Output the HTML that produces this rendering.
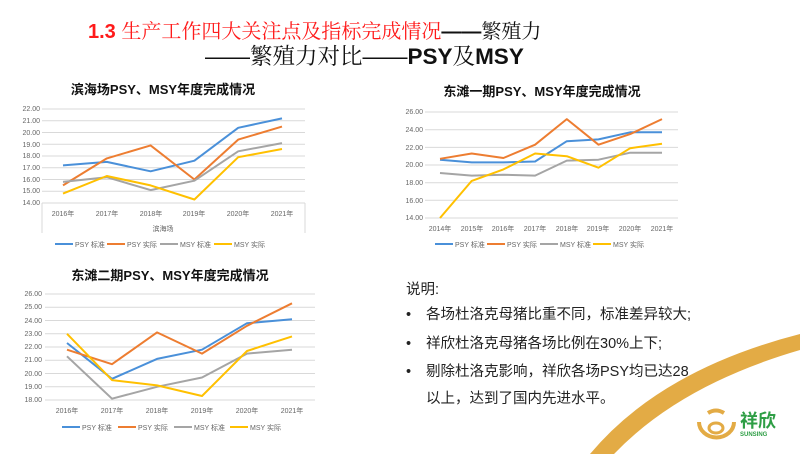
<!DOCTYPE html>
<html><head><meta charset="utf-8"><style>
body{margin:0;width:800px;height:454px;overflow:hidden;background:#fff}
svg{display:block}
.t{font-family:"Liberation Sans","Noto Sans CJK SC",sans-serif}
.ax{font-size:7px;fill:#666}
.g{stroke:#d9d9d9;stroke-width:1}
.ct{font-size:13px;font-weight:bold;fill:#111}
polyline{fill:none;stroke-width:2;stroke-linejoin:round}
.b{stroke:#4a90d9}.o{stroke:#ed7d31}.y{stroke:#a5a5a5}.w{stroke:#ffc000}
.tx{font-size:14.5px;fill:#222}
</style></head><body>
<svg width="800" height="454" class="t">
<path d="M590,454 Q660,370 800,334 L800,350 Q680,385 614,454 Z" fill="#e3ab45"/>
<text x="88" y="38" font-size="20" font-weight="bold" fill="#ff1a1a">1.3 <tspan font-family="Noto Serif CJK SC,serif" font-weight="normal">生产工作四大关注点及指标完成情况</tspan><tspan fill="#111">——</tspan><tspan fill="#111" font-family="Noto Serif CJK SC,serif" font-weight="normal">繁殖力</tspan></text>
<text x="205" y="64" font-size="22.5" fill="#111"><tspan>——</tspan><tspan font-family="Noto Serif CJK SC,serif">繁殖力对比</tspan><tspan>——</tspan><tspan font-weight="bold">PSY</tspan><tspan font-family="Noto Serif CJK SC,serif">及</tspan><tspan font-weight="bold">MSY</tspan></text>

<!-- chart1 -->
<text x="163" y="94" text-anchor="middle" class="ct">滨海场PSY、MSY年度完成情况</text>
<g class="g"><line x1="42" x2="305" y1="109" y2="109"/><line x1="42" x2="305" y1="120.75" y2="120.75"/><line x1="42" x2="305" y1="132.5" y2="132.5"/><line x1="42" x2="305" y1="144.25" y2="144.25"/><line x1="42" x2="305" y1="156" y2="156"/><line x1="42" x2="305" y1="167.75" y2="167.75"/><line x1="42" x2="305" y1="179.5" y2="179.5"/><line x1="42" x2="305" y1="191.25" y2="191.25"/><line x1="42" x2="305" y1="203" y2="203"/><line x1="42" x2="42" y1="203" y2="233"/><line x1="305" x2="305" y1="203" y2="233"/></g>
<g class="ax" text-anchor="end"><text x="40" y="111">22.00</text><text x="40" y="123">21.00</text><text x="40" y="135">20.00</text><text x="40" y="147">19.00</text><text x="40" y="158">18.00</text><text x="40" y="170">17.00</text><text x="40" y="182">16.00</text><text x="40" y="193">15.00</text><text x="40" y="205">14.00</text></g>
<g class="ax" text-anchor="middle"><text x="63" y="216">2016年</text><text x="107" y="216">2017年</text><text x="151" y="216">2018年</text><text x="194" y="216">2019年</text><text x="238" y="216">2020年</text><text x="282" y="216">2021年</text><text x="163" y="231">滨海场</text></g>
<polyline class="b" points="63,165.4 106.8,161.9 150.6,171.3 194.4,160.7 238.2,127.8 282,118.4"/>
<polyline class="o" points="63,185.4 106.8,158.4 150.6,145.4 194.4,179.5 238.2,139.6 282,126.6"/>
<polyline class="y" points="63,181.9 106.8,177.2 150.6,190.1 194.4,180.7 238.2,151.3 282,143.1"/>
<polyline class="w" points="63,193.6 106.8,176 150.6,185.4 194.4,199.5 238.2,157.2 282,149"/>
<g class="ax"><line x1="55" x2="73" y1="244" y2="244" stroke="#4a90d9" stroke-width="2"/><text x="75" y="247">PSY 标准</text><line x1="107" x2="125" y1="244" y2="244" stroke="#ed7d31" stroke-width="2"/><text x="127" y="247">PSY 实际</text><line x1="160" x2="178" y1="244" y2="244" stroke="#a5a5a5" stroke-width="2"/><text x="180" y="247">MSY 标准</text><line x1="214" x2="232" y1="244" y2="244" stroke="#ffc000" stroke-width="2"/><text x="234" y="247">MSY 实际</text></g>

<!-- chart2 -->
<text x="542" y="96" text-anchor="middle" class="ct">东滩一期PSY、MSY年度完成情况</text>
<g class="g"><line x1="425" x2="678" y1="112" y2="112"/><line x1="425" x2="678" y1="129.7" y2="129.7"/><line x1="425" x2="678" y1="147.4" y2="147.4"/><line x1="425" x2="678" y1="165" y2="165"/><line x1="425" x2="678" y1="182.7" y2="182.7"/><line x1="425" x2="678" y1="200.3" y2="200.3"/><line x1="425" x2="678" y1="218" y2="218"/></g>
<g class="ax" text-anchor="end"><text x="423" y="114">26.00</text><text x="423" y="132">24.00</text><text x="423" y="150">22.00</text><text x="423" y="167">20.00</text><text x="423" y="185">18.00</text><text x="423" y="203">16.00</text><text x="423" y="220">14.00</text></g>
<g class="ax" text-anchor="middle"><text x="440" y="231">2014年</text><text x="472" y="231">2015年</text><text x="503" y="231">2016年</text><text x="535" y="231">2017年</text><text x="567" y="231">2018年</text><text x="598" y="231">2019年</text><text x="630" y="231">2020年</text><text x="662" y="231">2021年</text></g>
<polyline class="b" points="440,159.7 471.7,162.4 503.4,162.4 535.1,161.5 566.8,141.2 598.5,139.4 630.2,132.3 662,132.3"/>
<polyline class="o" points="440,158.8 471.7,153.5 503.4,158 535.1,144.7 566.8,119.1 598.5,144.7 630.2,134.1 662,119.1"/>
<polyline class="y" points="440,173 471.7,175.6 503.4,174.7 535.1,175.6 566.8,160.6 598.5,159.7 630.2,152.7 662,152.7"/>
<polyline class="w" points="440,218 471.7,180.9 503.4,169.4 535.1,153.5 566.8,156.2 598.5,167.7 630.2,148.2 662,143.8"/>
<g class="ax"><line x1="435" x2="453" y1="244" y2="244" stroke="#4a90d9" stroke-width="2"/><text x="455" y="247">PSY 标准</text><line x1="487" x2="505" y1="244" y2="244" stroke="#ed7d31" stroke-width="2"/><text x="507" y="247">PSY 实际</text><line x1="540" x2="558" y1="244" y2="244" stroke="#a5a5a5" stroke-width="2"/><text x="560" y="247">MSY 标准</text><line x1="593" x2="611" y1="244" y2="244" stroke="#ffc000" stroke-width="2"/><text x="613" y="247">MSY 实际</text></g>

<!-- chart3 -->
<text x="170" y="280" text-anchor="middle" class="ct">东滩二期PSY、MSY年度完成情况</text>
<g class="g"><line x1="45" x2="315" y1="294" y2="294"/><line x1="45" x2="315" y1="307.25" y2="307.25"/><line x1="45" x2="315" y1="320.5" y2="320.5"/><line x1="45" x2="315" y1="333.75" y2="333.75"/><line x1="45" x2="315" y1="347" y2="347"/><line x1="45" x2="315" y1="360.25" y2="360.25"/><line x1="45" x2="315" y1="373.5" y2="373.5"/><line x1="45" x2="315" y1="386.75" y2="386.75"/><line x1="45" x2="315" y1="400" y2="400"/></g>
<g class="ax" text-anchor="end"><text x="42" y="296">26.00</text><text x="42" y="309">25.00</text><text x="42" y="323">24.00</text><text x="42" y="336">23.00</text><text x="42" y="349">22.00</text><text x="42" y="362">21.00</text><text x="42" y="376">20.00</text><text x="42" y="389">19.00</text><text x="42" y="402">18.00</text></g>
<g class="ax" text-anchor="middle"><text x="67" y="413">2016年</text><text x="112" y="413">2017年</text><text x="157" y="413">2018年</text><text x="202" y="413">2019年</text><text x="247" y="413">2020年</text><text x="292" y="413">2021年</text></g>
<polyline class="b" points="67,343 112,378.8 157,358.9 202,349.7 247,323.2 292,319.2"/>
<polyline class="o" points="67,349.7 112,364.2 157,332.4 202,353.6 247,325.8 292,303.3"/>
<polyline class="y" points="67,356.3 112,398.7 157,386.8 202,377.5 247,353.6 292,349.7"/>
<polyline class="w" points="67,333.8 112,380.1 157,385.4 202,396 247,351 292,336.4"/>
<g class="ax"><line x1="62" x2="80" y1="427" y2="427" stroke="#4a90d9" stroke-width="2"/><text x="82" y="430">PSY 标准</text><line x1="118" x2="136" y1="427" y2="427" stroke="#ed7d31" stroke-width="2"/><text x="138" y="430">PSY 实际</text><line x1="174" x2="192" y1="427" y2="427" stroke="#a5a5a5" stroke-width="2"/><text x="194" y="430">MSY 标准</text><line x1="230" x2="248" y1="427" y2="427" stroke="#ffc000" stroke-width="2"/><text x="250" y="430">MSY 实际</text></g>

<!-- text -->
<g class="tx"><text x="406" y="294">说明:</text>
<text x="406" y="319">•</text><text x="426" y="319">各场杜洛克母猪比重不同，标准差异较大;</text>
<text x="406" y="348">•</text><text x="426" y="348">祥欣杜洛克母猪各场比例在30%上下;</text>
<text x="406" y="376">•</text><text x="426" y="376">剔除杜洛克影响，祥欣各场PSY均已达28</text>
<text x="426" y="403">以上，达到了国内先进水平。</text></g>

<!-- logo -->
<g fill="none" stroke="#e3ab45" stroke-width="4"><path d="M699,422 A17,15 0 1 0 734,422"/><path d="M708,413 Q716,408 724,413"/><ellipse cx="716" cy="428" rx="7" ry="5" stroke-width="3"/></g>
<text x="740" y="427" font-size="18" font-weight="bold" fill="#2e9e45" font-family="Noto Sans CJK SC,sans-serif">祥欣</text>
<text x="740" y="436" font-size="6" font-weight="bold" fill="#2e9e45">SUNSING</text>
</svg>
</body></html>
